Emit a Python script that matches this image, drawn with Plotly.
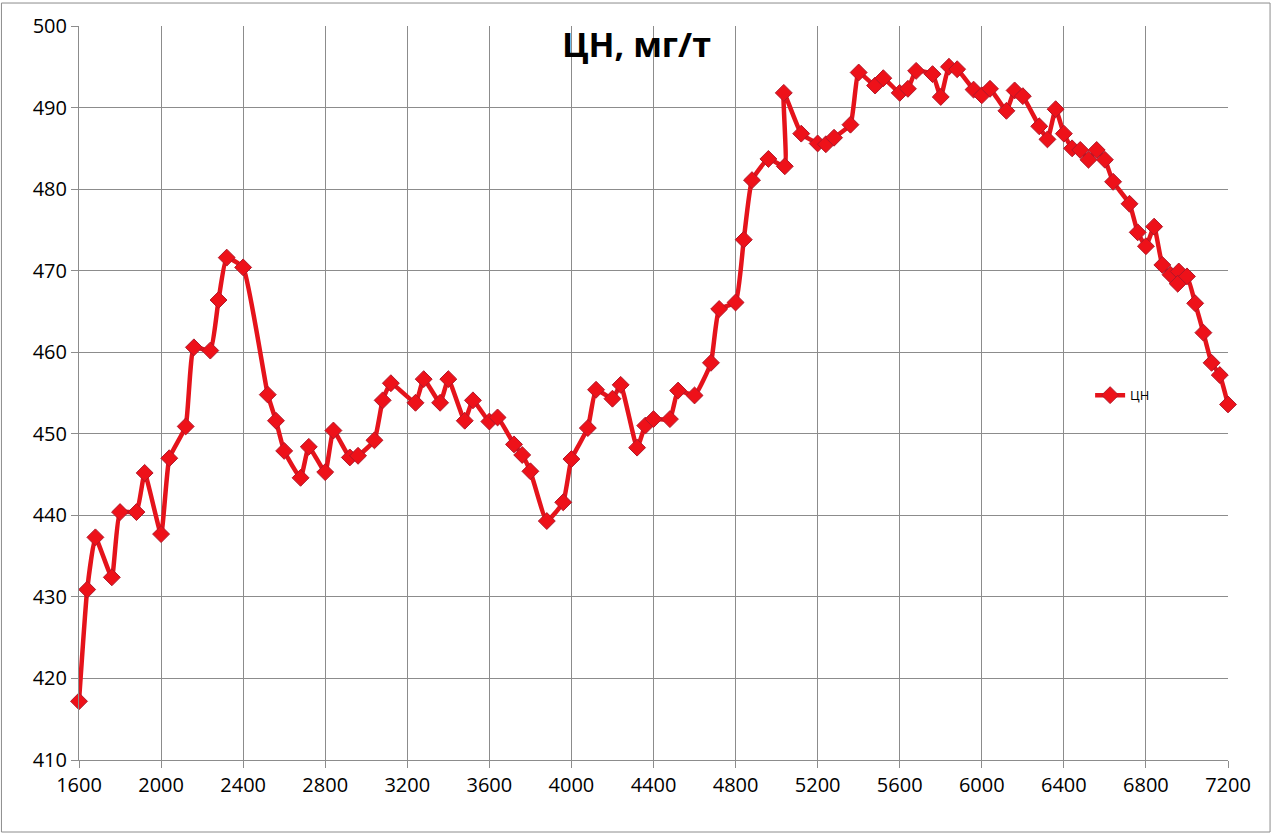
import plotly.graph_objects as go

x_vals = [1600, 1640, 1680, 1760, 1800, 1880, 1920, 2000, 2040, 2120,
          2160, 2240, 2280, 2320, 2400, 2520, 2560, 2600, 2680, 2720,
          2800, 2840, 2920, 2960, 3040, 3080, 3120, 3240, 3280, 3360,
          3400, 3480, 3520, 3600, 3640, 3720, 3760, 3800, 3880, 3960,
          4000, 4080, 4120, 4200, 4240, 4320, 4360, 4400, 4480, 4520,
          4600, 4680, 4720, 4800, 4840, 4880, 4960, 5040, 5035, 5120,
          5200, 5240, 5280, 5360, 5400, 5480, 5520, 5600, 5640, 5680,
          5760, 5800, 5840, 5880, 5960, 6000, 6040, 6120, 6160, 6200,
          6280, 6320, 6360, 6400, 6440, 6480, 6520, 6560, 6600, 6640,
          6720, 6760, 6800, 6840, 6880, 6920, 6960, 6955, 7000, 7040,
          7080, 7120, 7160, 7200]
cn_vals = [417.2, 430.9, 437.3, 432.4, 440.4, 440.4, 445.2, 437.7, 447.0, 450.9,
           460.6, 460.2, 466.4, 471.6, 470.4, 454.8, 451.6, 447.9, 444.6, 448.4,
           445.3, 450.4, 447.1, 447.3, 449.2, 454.1, 456.2, 453.8, 456.7, 453.8,
           456.7, 451.6, 454.1, 451.5, 452.0, 448.7, 447.4, 445.4, 439.3, 441.6,
           446.9, 450.7, 455.4, 454.3, 456.0, 448.3, 451.0, 451.8, 451.8, 455.3,
           454.7, 458.7, 465.3, 466.1, 473.8, 481.1, 483.7, 482.8, 491.8, 486.8,
           485.6, 485.5, 486.3, 487.9, 494.3, 492.7, 493.6, 491.8, 492.3, 494.5,
           494.1, 491.3, 495.0, 494.7, 492.2, 491.5, 492.3, 489.6, 492.1, 491.4,
           487.7, 486.1, 489.8, 486.8, 485.0, 484.8, 483.6, 484.8, 483.6, 480.9,
           478.2, 474.7, 473.0, 475.4, 470.7, 469.5, 469.9, 468.4, 469.3, 466.0,
           462.4, 458.7, 457.2, 453.6]

series_name = "ЦН"
title_text = "ЦН, мг/т"
x_ticks = [1600, 2000, 2400, 2800, 3200, 3600, 4000, 4400, 4800, 5200, 5600, 6000, 6400, 6800, 7200]
y_ticks = [410, 420, 430, 440, 450, 460, 470, 480, 490, 500]

fig = go.Figure()
fig.add_trace(go.Scatter(
    x=x_vals, y=cn_vals, name=series_name, mode="lines+markers",
    line=dict(color="#E5131B", width=4.5, shape="spline", smoothing=0.4),
    marker=dict(symbol="diamond", size=13, color="#EE1119",
                line=dict(color="#B0182A", width=1)),
    cliponaxis=False,
))

grid = "#8C8C8C"
fig.update_layout(
    width=1273, height=835,
    paper_bgcolor="white", plot_bgcolor="white",
    margin=dict(l=79, r=45, t=26, b=75),
    font=dict(family="Open Sans, sans-serif", color="#000000"),
    title=dict(text="<b>" + title_text + "</b>", x=0.5, xref="container", xanchor="center",
               y=0.946, yref="container", yanchor="middle",
               font=dict(size=34, family="Open Sans, sans-serif", color="#000000")),
    showlegend=True,
    legend=dict(x=0.88, y=0.497, xanchor="left", yanchor="middle",
                bgcolor="rgba(0,0,0,0)", font=dict(size=13, color="#000000"),
                itemwidth=30),
    xaxis=dict(range=[1600, 7200], tickvals=x_ticks, ticktext=[str(v) for v in x_ticks],
               showgrid=True, gridcolor=grid, gridwidth=1,
               showline=True, linecolor=grid, linewidth=1,
               ticks="outside", ticklen=7, tickcolor=grid,
               tickfont=dict(size=20), zeroline=False),
    yaxis=dict(range=[410, 500], tickvals=y_ticks, ticktext=[str(v) for v in y_ticks],
               showgrid=True, gridcolor=grid, gridwidth=1,
               showline=True, linecolor=grid, linewidth=1,
               ticks="outside", ticklen=7, tickcolor=grid,
               tickfont=dict(size=20), zeroline=False),
    shapes=[dict(type="rect", xref="paper", yref="paper",
                 x0=-0.0675, x1=1.0366, y0=-0.0981, y1=1.0313,
                 line=dict(color="#8C8C8C", width=1), fillcolor="rgba(0,0,0,0)",
                 layer="below")],
)

fig.write_html("out.html", config={"displayModeBar": False},
               post_script="document.body.style.margin='0';document.body.style.padding='0';")
